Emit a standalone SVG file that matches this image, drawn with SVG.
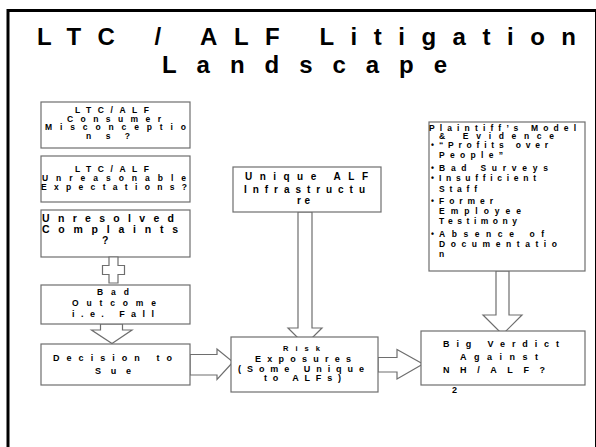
<svg xmlns="http://www.w3.org/2000/svg" width="596" height="447" viewBox="0 0 596 447">
<style>
.t{font-family:"Liberation Sans",Arial,sans-serif;font-weight:bold;fill:#000;}
.title{font-size:24px;}
.s8{font-size:8.5px;}
.s9{font-size:9px;}
.s10{font-size:10px;}
.s105{font-size:10.5px;}
.box{fill:#fff;stroke:#6e6e6e;stroke-width:1.2;}
.arr{fill:#fff;stroke:#6e6e6e;stroke-width:1.2;stroke-linejoin:miter;}
</style>
<rect x="0" y="0" width="596" height="447" fill="#fff"/>
<rect id="frame" x="8" y="10.5" width="588.5" height="450" fill="none" stroke="#000" stroke-width="3"/>
<g id="title">
<text class="t title" x="37" y="45" textLength="539" lengthAdjust="spacing">LTC / ALF Litigation</text>
<text class="t title" x="162" y="72.5" textLength="285" lengthAdjust="spacing">Landscape</text>
</g>
<g id="connectors">
<polygon class="arr" points="100.5,324 122.5,324 122.5,330 132,330 112,343.5 91.5,330 100.5,330"/>
<polygon class="arr" points="190,354.5 217,354.5 217,349 233,362 217,379.5 217,375 190,375"/>
<polygon class="arr" points="298,212 312,212 312,328 322,328 305,345 288,328 298,328"/>
<polygon class="arr" points="378,357.5 397,357.5 397,349.5 423,364 397,379 397,372 378,372"/>
<polygon class="arr" points="496,271 509,271 509,315 522,315 502.5,334.5 483,315 496,315"/>
</g>
<g id="misconceptions">
<rect class="box" x="41" y="102" width="149" height="46"/>
<text class="t s8" x="75" y="113" textLength="74" lengthAdjust="spacing">LTC/ALF</text>
<text class="t s8" x="67" y="121.5" textLength="94" lengthAdjust="spacing">Consumer</text>
<text class="t s8" x="45" y="130" textLength="141" lengthAdjust="spacing">Misconceptio</text>
<text class="t s8" x="86" y="138.5" textLength="44" lengthAdjust="spacing">ns?</text>
</g>
<g id="expectations">
<rect class="box" x="41" y="156" width="149" height="46"/>
<text class="t s8" x="75" y="172" textLength="74" lengthAdjust="spacing">LTC/ALF</text>
<text class="t s8" x="42" y="181" textLength="144" lengthAdjust="spacing">Unreasonable</text>
<text class="t s8" x="41" y="190" textLength="146" lengthAdjust="spacing">Expectations?</text>
</g>
<g id="complaints">
<rect class="box" x="41" y="210" width="149" height="47"/>
<text class="t s105" x="42" y="222" textLength="132" lengthAdjust="spacing">Unresolved</text>
<text class="t s105" x="42" y="233" textLength="136" lengthAdjust="spacing">Complaints</text>
<text class="t s105" x="102" y="244">?</text>
</g>
<g id="plus">
<polygon class="arr" points="109,257 118,257 118,265.5 124.5,265.5 124.5,274.5 118,274.5 118,283 109,283 109,274.5 102.5,274.5 102.5,265.5 109,265.5"/>
</g>
<g id="bad-outcome">
<rect class="box" x="41" y="285" width="149" height="39"/>
<text class="t s8" x="97" y="295" textLength="32" lengthAdjust="spacing">Bad</text>
<text class="t s8" x="72" y="305.5" textLength="84" lengthAdjust="spacing">Outcome</text>
<text class="t s9" x="72" y="317" textLength="82" lengthAdjust="spacing">i.e. Fall</text>
</g>
<g id="decision">
<rect class="box" x="41" y="344" width="149" height="41"/>
<text class="t s9" x="53" y="361" textLength="119" lengthAdjust="spacing">Decision to</text>
<text class="t s9" x="95" y="374" textLength="36" lengthAdjust="spacing">Sue</text>
</g>
<g id="infrastructure">
<rect class="box" x="233" y="167" width="148" height="45"/>
<text class="t s10" x="245" y="180" textLength="123" lengthAdjust="spacing">Unique ALF</text>
<text class="t s10" x="244" y="193" textLength="121" lengthAdjust="spacing">Infrastructu</text>
<text class="t s10" x="297" y="204" textLength="13" lengthAdjust="spacing">re</text>
</g>
<g id="risk">
<rect class="box" x="231" y="337" width="147" height="55"/>
<text class="t" style="font-size:7.5px" x="283" y="351" textLength="37" lengthAdjust="spacing">Risk</text>
<text class="t s9" x="255" y="362" textLength="96" lengthAdjust="spacing">Exposures</text>
<text class="t s9" x="238" y="371.5" textLength="126" lengthAdjust="spacing">(Some Unique</text>
<text class="t s9" x="264" y="381" textLength="77" lengthAdjust="spacing">to ALFs)</text>
</g>
<g id="plaintiff">
<rect class="box" x="429" y="122" width="156" height="149"/>
<text class="t s8" x="429" y="130.5" textLength="147" lengthAdjust="spacing">Plaintiff’s Model</text>
<text class="t s8" x="439" y="139" textLength="115" lengthAdjust="spacing">&amp; Evidence</text>
<text class="t s8" x="431" y="148">•</text>
<text class="t s8" x="439" y="148" textLength="109" lengthAdjust="spacing">“Profits over</text>
<text class="t s8" x="439" y="158" textLength="64" lengthAdjust="spacing">People”</text>
<text class="t s8" x="431" y="171">•</text>
<text class="t s8" x="439" y="171" textLength="109" lengthAdjust="spacing">Bad Surveys</text>
<text class="t s8" x="431" y="181">•</text>
<text class="t s8" x="439" y="181" textLength="97" lengthAdjust="spacing">Insufficient</text>
<text class="t s8" x="439" y="192" textLength="38" lengthAdjust="spacing">Staff</text>
<text class="t s8" x="431" y="204">•</text>
<text class="t s8" x="439" y="204" textLength="54" lengthAdjust="spacing">Former</text>
<text class="t s8" x="439" y="214" textLength="82" lengthAdjust="spacing">Employee</text>
<text class="t s8" x="439" y="224" textLength="78" lengthAdjust="spacing">Testimony</text>
<text class="t s8" x="431" y="237">•</text>
<text class="t s8" x="439" y="237" textLength="105" lengthAdjust="spacing">Absence of</text>
<text class="t s8" x="439" y="247" textLength="118" lengthAdjust="spacing">Documentatio</text>
<text class="t s8" x="439" y="257">n</text>
</g>
<g id="verdict">
<rect class="box" x="421" y="331" width="164" height="54"/>
<text class="t s9" x="443" y="347" textLength="116" lengthAdjust="spacing">Big Verdict</text>
<text class="t s9" x="460" y="359.5" textLength="78" lengthAdjust="spacing">Against</text>
<text class="t s9" x="443" y="373" textLength="102" lengthAdjust="spacing">NH/ALF?</text>
</g>
<text id="page-number" class="t s9" x="452" y="393">2</text>
</svg>
